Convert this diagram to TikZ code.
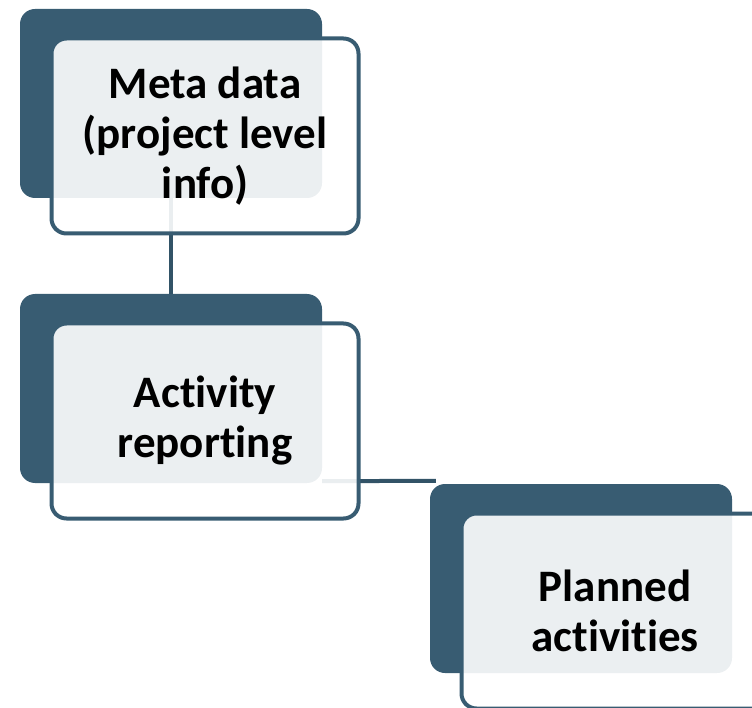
\documentclass[tikz,border=0pt]{standalone}
\usepackage{fontspec}
\setmainfont{Carlito}[Ligatures=NoCommon]
\usetikzlibrary{positioning}

\definecolor{slate}{HTML}{385C72}

\begin{document}
\begin{tikzpicture}[x=1pt,y=-1pt,
                    backbox/.style={fill=slate,rounded corners=15pt,inner sep=0pt,
                                    minimum width=302pt,minimum height=189pt},
                    textbox/.style={draw=slate,line width=4pt,fill=white,fill opacity=0.9,
                                    text opacity=1,rounded corners=15pt,inner sep=0pt,
                                    minimum width=307pt,minimum height=195pt,align=center,
                                    font=\fontsize{45}{50}\selectfont\bfseries},
                    link/.style={draw=slate!90!black,line width=4pt}]

                    \useasboundingbox (0,0) rectangle (752,708);
                    \clip (0,0) rectangle (752,708);

                    % dark backing boxes
                    \node[backbox] (metaback) at (171,103.5) {};
                    \node[backbox] (actback) at (171,388.5) {};
                    \node[backbox] (planback) at (581,578.5) {};

                    % connectors
                    \draw[link] (metaback.south) -- (actback.north);
                    \draw[link] ([yshift=2pt]actback.south east) -- ([shift={(6,-3)}]planback.north west);

                    % text boxes
                    \node[textbox] (meta) at ([shift={(34,32.5)}]metaback) {Meta data\\(project level\\info)};
                    \node[textbox] (act) at ([shift={(34,32.5)}]actback) {Activity\\reporting};
                    \node[textbox] (plan) at ([shift={(34,32.5)}]planback) {Planned\\activities};
                \end{tikzpicture}
\end{document}
